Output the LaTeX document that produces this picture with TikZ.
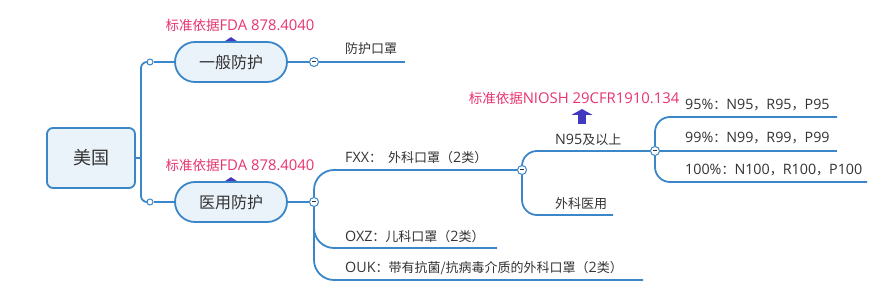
\documentclass[tikz,border=0pt]{standalone}
\usepackage{fontspec}
\setmainfont{Noto Sans CJK SC}
\newfontfamily\lat[Scale=1.1]{Open Sans}
\usetikzlibrary{arrows.meta,positioning}
\definecolor{mapblue}{HTML}{3B86C8}
\definecolor{mapfill}{HTML}{EAF2FA}
\definecolor{notepink}{HTML}{E8336D}
\definecolor{markblue}{HTML}{4338C0}
\definecolor{textgray}{HTML}{333333}
\tikzset{
  branch/.style={draw=mapblue,line width=1.8pt},
  topic/.style={draw=mapblue,fill=mapfill,line width=1.8pt,minimum width=112,minimum height=40,rounded corners=20,text=textgray,font=\fontsize{16}{18}\selectfont},
  hub/.style={circle,draw=mapblue,fill=white,line width=1pt,minimum size=6,inner sep=0},
  fold/.style={circle,draw=mapblue,fill=white,line width=1pt,minimum size=9,inner sep=0,
    path picture={\draw[line width=1pt,textgray] ([xshift=-2pt]path picture bounding box.center) -- ([xshift=2pt]path picture bounding box.center);}},
  leaf/.style={anchor=west,inner sep=0,text=textgray,font=\fontsize{13}{15}\selectfont},
  note/.style={inner sep=0,text=notepink,font=\fontsize{13.5}{15}\selectfont},
  bump/.style={fill=markblue}
}
\begin{document}
\begin{tikzpicture}[x=1pt,y=-1pt]
  \useasboundingbox (0,0) rectangle (872,288);
  % main topic and its two branches
  \node[draw=mapblue,fill=mapfill,line width=1.8pt,rounded corners=6,minimum width=88,minimum height=60,text=textgray,font=\fontsize{18}{20}\selectfont] (root) at (91,158) {美国};
  \node[topic] (general) at (231,62) {一般防护};
  \node[topic] (medical) at (231,202) {医用防护};
  \fill[bump] ([xshift=-6]general.north) -- ([yshift=4]general.north) -- ([xshift=6]general.north) -- cycle;
  \fill[bump] ([xshift=-6]medical.north) -- ([yshift=4]medical.north) -- ([xshift=6]medical.north) -- cycle;
  \node[note] (fda1) at (240,25) {标准依据{\lat FDA 878.4040}};
  \node[note] (fda2) at (240,165) {标准依据{\lat FDA 878.4040}};
  \node[hub] (h1) at (150,62) {};
  \node[hub] (h2) at (150,202) {};
  \coordinate (split) at (141,158);
  \draw[branch] (root) -- (split);
  \draw[branch,rounded corners=6] (h1) -| (split) |- (h2);
  \draw[branch] (h1) -- (general);
  \draw[branch] (h2) -- (medical);
  % general
  \node[fold] (fg) at (314,62) {};
  \coordinate (mask-end) at (405,62);
  \draw[branch] (general) -- (fg);
  \draw[branch] (fg) -- (mask-end);
  \node[leaf] (mask) at (345,49) {防护口罩};
  % medical
  \node[fold] (fm) at (314,202) {};
  \node[fold] (fx) at (522,170) {};
  \coordinate (oxz-end) at (497,248);
  \coordinate (ouk-end) at (643,280);
  \draw[branch] (medical) -- (fm);
  \draw[branch,rounded corners=20] (fm) |- (fx);
  \draw[branch,rounded corners=20] (fm) |- (oxz-end);
  \draw[branch,rounded corners=20] (fm) |- (ouk-end);
  \node[leaf] (fxx) at (345,158) {{\lat FXX}：\hspace{6pt}外科口罩（{\lat 2}类）};
  \node[leaf] (oxz) at (345,237) {{\lat OXZ}：儿科口罩（{\lat 2}类）};
  \node[leaf] (ouk) at (345,268) {{\lat OUK}：带有抗菌/抗病毒介质的外科口罩（{\lat 2}类）};
  % FXX
  \node[fold] (fn) at (655,151) {};
  \coordinate (surg-end) at (613,215);
  \draw[branch,rounded corners=15] (fx) |- (fn);
  \draw[branch,rounded corners=15] (fx) |- (surg-end);
  \node[leaf] (n95) at (555,140) {{\lat N95}及以上};
  \node[leaf] (surg) at (555,204) {外科医用};
  \node[note] (niosh) at (574,98) {标准依据{\lat NIOSH 29CFR1910.134}};
  \coordinate (up0) at (582,124);
  \coordinate (up1) at (582,109);
  \draw[markblue,line width=8pt,-{Triangle[width=21pt,length=6pt]}] (up0) -- (up1);
  % N95
  \coordinate (p95-end) at (837,117);
  \coordinate (p99-end) at (837,151);
  \coordinate (p100-end) at (867,182);
  \draw[branch,rounded corners=15] (fn) |- (p95-end);
  \draw[branch] (fn) -- (p99-end);
  \draw[branch,rounded corners=15] (fn) |- (p100-end);
  \node[leaf] (p95) at (685,105) {{\lat 95\%}：{\lat N95}，{\lat R95}，{\lat P95}};
  \node[leaf] (p99) at (685,138) {{\lat 99\%}：{\lat N99}，{\lat R99}，{\lat P99}};
  \node[leaf] (p100) at (685,170) {{\lat 100\%}：{\lat N100}，{\lat R100}，{\lat P100}};
\end{tikzpicture}
\end{document}
